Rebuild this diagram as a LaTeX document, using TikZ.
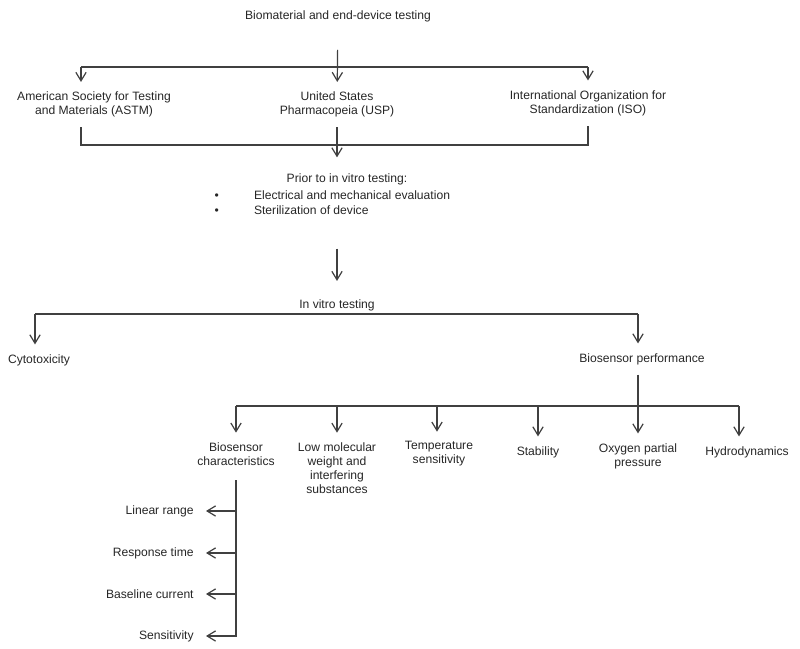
\documentclass[tikz,border=0pt]{standalone}
\usepackage{fontspec}
\setmainfont{Liberation Sans}
\usepackage{tikz}
\usetikzlibrary{arrows.meta}

\tikzset{
  lbl/.style={text=black!85, align=center, inner xsep=2pt, inner ysep=8pt, font=\fontsize{10}{11.5}\selectfont},
  link/.style={draw=black!75, line width=1pt},
  arr/.style={link, -{Straight Barb[length=7pt,width=8.5pt]}},
  side/.style={lbl, anchor=east, inner xsep=10pt}
}

\begin{document}
\begin{tikzpicture}[x=0.029cm, y=-0.029cm]
  \useasboundingbox (0,0) rectangle (800,649);

  \node[lbl] (title) at (338,16) {Biomaterial and end-device testing};
  \node[lbl] (astm) at (94,104.5) {American Society for Testing\\and Materials (ASTM)};
  \node[lbl] (usp) at (337,104.5) {United States\\Pharmacopeia (USP)};
  \node[lbl] (iso) at (588,103) {International Organization for\\Standardization (ISO)};
  \node[lbl, inner ysep=13pt] (prior) at (347,179) {Prior to in vitro testing:};
  \node[lbl, align=left, anchor=west, font=\fontsize{10}{12.3}\selectfont] (list) at (212,202.5)
    {\textbullet\hspace{29pt}Electrical and mechanical evaluation\\\textbullet\hspace{29pt}Sterilization of device};
  \node[lbl, inner ysep=15pt] (invitro) at (337,305) {In vitro testing};
  \node[lbl] (cyto) at (39,360) {Cytotoxicity};
  \node[lbl] (perf) at (642,359) {Biosensor performance};
  \node[lbl] (char) at (236,454) {Biosensor\\characteristics};
  \node[lbl] (lowmol) at (337,468) {Low molecular\\weight and\\interfering\\substances};
  \node[lbl] (temp) at (439,454) {Temperature\\sensitivity};
  \node[lbl] (stab) at (538,452) {Stability};
  \node[lbl] (oxy) at (638,456) {Oxygen partial\\pressure};
  \node[lbl] (hydro) at (747,452) {Hydrodynamics};
  \node[side] (lin) at (206,511) {Linear range};
  \node[side] (resp) at (206,553) {Response time};
  \node[side] (base) at (206,594) {Baseline current};
  \node[side] (sens) at (206,636) {Sensitivity};

  \coordinate (b1l) at (81,67);
  \coordinate (b1r) at (588,67);
  \coordinate (b2l) at (81,145);
  \coordinate (b2r) at (588,145);
  \coordinate (b3l) at (35,314);
  \coordinate (b3r) at (638,314);
  \coordinate (b4l) at (236,406);
  \coordinate (b4r) at (739,406);

  \draw[link] (b1l) -- (b1r);
  \draw[arr, shorten <=15pt] (title) -- (usp);
  \draw[arr] (b1l) -- (b1l |- astm.north);
  \draw[arr] (b1r) -- (iso);

  \draw[link] (b2l |- astm.south) -- (b2l) -- (b2r) -- (iso);
  \draw[arr] (usp) -- (usp |- prior.north);
  \draw[arr, shorten <=20pt] (invitro |- list.south) -- (invitro);

  \draw[link] (b3l) -- (b3r);
  \draw[arr] (b3l) -- (b3l |- cyto.north);
  \draw[arr] (b3r) -- (b3r |- perf.north);

  \draw[link] (b4l) -- (b4r);
  \draw[arr] (b3r |- perf.south) -- (oxy);
  \foreach \x/\n in {236/char,337/lowmol,437/temp,538/stab,739/hydro}{
    \coordinate (t\n) at (\x,406);
    \draw[arr] (t\n) -- (t\n |- \n.north);
  }

  \draw[arr, shorten <=4pt] (char) -- (char |- sens) -- (sens);
  \foreach \n in {lin,resp,base}
    \draw[arr] (char |- \n) -- (\n);
\end{tikzpicture}
\end{document}
